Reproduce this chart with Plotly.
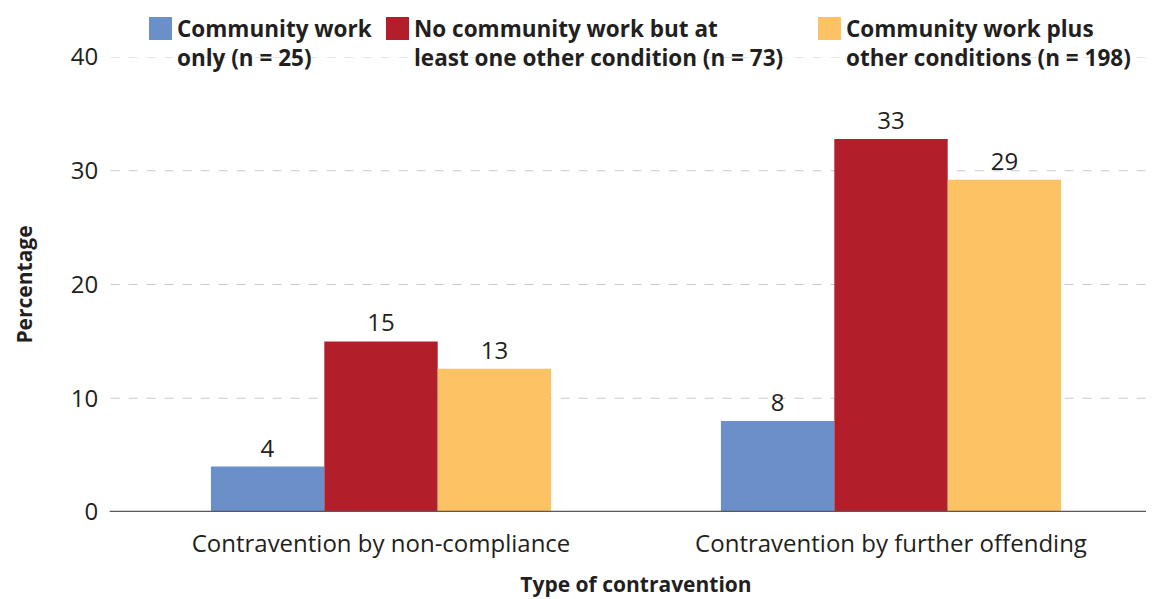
import plotly.graph_objects as go

# Data
categories = ["Contravention by non-compliance", "Contravention by further offending"]
series_names = [
    "Community work<br>only (n = 25)",
    "No community work but at<br>least one other condition (n = 73)",
    "Community work plus<br>other conditions (n = 198)",
]
cw_only = [4.0, 8.0]
no_cw_other = [15.0, 32.8]
cw_plus_other = [12.6, 29.2]
y_ticks = [0, 10, 20, 30, 40]

colors = ["#6B8FC9", "#B21F2A", "#FCC263"]
FONT = "Open Sans, Liberation Sans, Arial, sans-serif"
TXT = "#231f20"

W, H = 1153, 599
L, R, T, B = 126, 7, 57, 87

fig = go.Figure()
for name, vals, col in zip(series_names, [cw_only, no_cw_other, cw_plus_other], colors):
    fig.add_trace(go.Bar(
        x=categories, y=vals, name=name, marker=dict(color=col, line=dict(width=0)),
        text=[f"{v:.0f}" for v in vals], textposition="outside",
        textfont=dict(size=24, color=TXT, family=FONT), cliponaxis=False,
        showlegend=False,
    ))

# gridlines (dashed) and baseline
for v in y_ticks[1:]:
    fig.add_shape(type="line", xref="paper", yref="y", x0=-0.015, x1=1, y0=v, y1=v,
                  line=dict(color="#c9c9c9", width=1.2, dash="dash"), layer="below")
fig.add_shape(type="line", xref="paper", yref="y", x0=-0.016, x1=1, y0=0, y1=0,
              line=dict(color="#58595b", width=2.5), layer="above")

# legend drawn manually
pw = W - L - R
def px_x(p):
    return (p - L) / pw
ph = H - T - B
def px_y(p):
    return (H - B - p) / ph

legend_x = [149, 386, 818]
for name, col, lx in zip(series_names, colors, legend_x):
    fig.add_shape(type="rect", xref="paper", yref="paper",
                  x0=px_x(lx), x1=px_x(lx + 23), y0=px_y(40), y1=px_y(17),
                  fillcolor=col, line=dict(width=0))
    fig.add_annotation(xref="paper", yref="paper", x=px_x(lx + 26), y=px_y(11),
                       xanchor="left", yanchor="top", align="left", showarrow=False,
                       text=name, font=dict(size=22.5, color=TXT, family=FONT, weight="bold"))

fig.update_layout(
    width=W, height=H,
    margin=dict(l=L, r=R, t=T, b=B, autoexpand=False),
    paper_bgcolor="white", plot_bgcolor="white",
    barmode="group", bargap=0.333, bargroupgap=0,
    font=dict(family=FONT, color=TXT, size=24),
    xaxis=dict(
        showline=False, showgrid=False, ticks="outside", ticklen=10, tickcolor="rgba(0,0,0,0)",
        tickfont=dict(size=24, color=TXT),
        title=dict(text="Type of contravention", standoff=19,
                   font=dict(size=21, color=TXT, weight="bold")),
    ),
    yaxis=dict(
        range=[0, 40], tickvals=y_ticks, showgrid=False, zeroline=False, showline=False,
        ticks="outside", ticklen=22, tickcolor="rgba(0,0,0,0)",
        tickfont=dict(size=24, color=TXT),
        title=dict(text="Percentage", standoff=32,
                   font=dict(size=21, color=TXT, weight="bold")),
    ),
)

fig.write_html("out.html", config={"displayModeBar": False},
               post_script="document.body.style.margin='0';")
